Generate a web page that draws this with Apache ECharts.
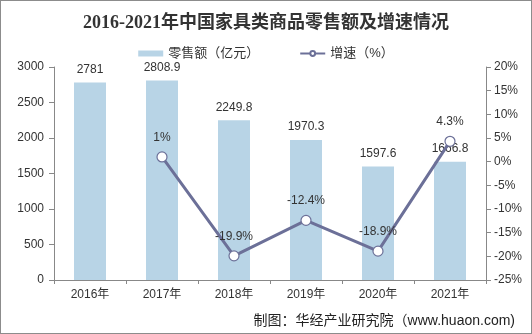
<!DOCTYPE html>
<html><head><meta charset="utf-8">
<script src="https://cdn.jsdelivr.net/npm/echarts@6/dist/echarts.min.js"></script>
<style>html,body{margin:0;padding:0;background:#fff}#c{width:532px;height:334px;box-sizing:border-box;border:1px solid #8c8c8c}</style>
</head><body><div id="c"></div>
<script>
const categories = ['2016年','2017年','2018年','2019年','2020年','2021年'];
const salesValues = [2781, 2808.9, 2249.8, 1970.3, 1597.6, 1666.8];
const growthValues = [null, 1, -19.9, -12.4, -18.9, 4.3];
const leftTicks = [0, 500, 1000, 1500, 2000, 2500, 3000];
const rightTicks = [-25, -20, -15, -10, -5, 0, 5, 10, 15, 20];

const chart = echarts.init(document.getElementById('c'), null, {renderer:'canvas'});
const font = 'Arial, "Liberation Sans", "Noto Sans CJK SC", sans-serif';
chart.setOption({
  animation:false,
  title:{text:'2016-2021年中国家具类商品零售额及增速情况', left:'center', top:8,
    textStyle:{fontFamily:'"Liberation Serif","Noto Sans CJK SC",serif', fontWeight:'bold', fontSize:18, color:'#333'}},
  legend:{top:41, left:'center', itemGap:40, itemWidth:25, itemHeight:6,
    textStyle:{fontFamily:font, fontSize:13, color:'#333'},
    data:[{name:'零售额（亿元）', icon:'rect'},{name:'增速（%）'}]},
  grid:{left:53, right:45, top:66, bottom:53},
  xAxis:{type:'category', data:categories,
    axisLine:{lineStyle:{color:'#888'}}, axisTick:{show:true, length:4, lineStyle:{color:'#888'}},
    axisLabel:{fontFamily:font, fontSize:12, color:'#333', margin:9}},
  yAxis:[
    {type:'value', min:leftTicks[0], max:leftTicks[leftTicks.length-1], interval:500, splitLine:{show:false},
      axisLine:{show:true, lineStyle:{color:'#888'}}, axisTick:{show:true, length:5, lineStyle:{color:'#888'}},
      axisLabel:{fontFamily:font, fontSize:12, color:'#333', margin:10, formatter:v=>String(v)}},
    {type:'value', min:rightTicks[0], max:rightTicks[rightTicks.length-1], interval:5, splitLine:{show:false},
      axisLine:{show:true, lineStyle:{color:'#888'}}, axisTick:{show:true, length:5, lineStyle:{color:'#888'}},
      axisLabel:{fontFamily:font, fontSize:12, color:'#333', margin:8, formatter:'{value}%'}}
  ],
  series:[
    {name:'零售额（亿元）', type:'bar', data:salesValues, barWidth:32,
      itemStyle:{color:'#b8d4e6'},
      label:{show:true, position:'top', distance:7, fontFamily:font, fontSize:12, color:'#333'}},
    {name:'增速（%）', type:'line', yAxisIndex:1, data:growthValues, connectNulls:false,
      symbol:'circle', symbolSize:10, lineStyle:{color:'#6c7098', width:3},
      itemStyle:{color:'#fff', borderColor:'#6c7098', borderWidth:1.2},
      label:{show:true, position:'top', distance:8, fontFamily:font, fontSize:12, color:'#333', formatter:p=>p.value+'%'}}
  ],
  graphic:[
    {type:'text', right:16, bottom:5, style:{text:'制图：华经产业研究院（www.huaon.com)', font:'14px Arial, "Noto Sans CJK SC", sans-serif', fill:'#222'}}
  ]
});
</script></body></html>
